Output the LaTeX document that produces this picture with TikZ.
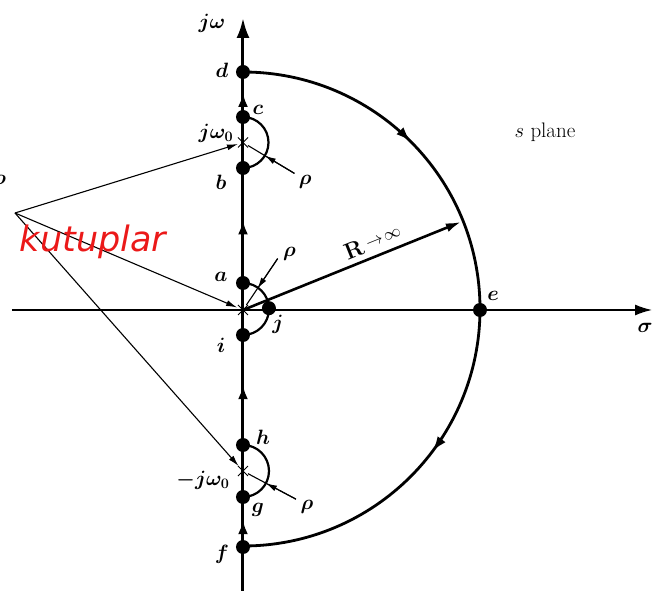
\documentclass[tikz,border=0pt]{standalone}
\usepackage{fontspec}
\usetikzlibrary{positioning, arrows.meta, decorations.markings, shapes.misc}
\definecolor{polered}{RGB}{235, 25, 25}
\newfontfamily\kutupfont{DejaVu Sans}

\tikzset{
    pt/.style={circle, fill, inner sep=0pt, minimum size=14pt},
    pole/.style={cross out, draw, line width=1pt, inner sep=0pt, minimum size=9pt},
    lbl/.style={font=\fontsize{21}{24}\selectfont\boldmath},
    axisline/.style={line width=3pt},
    upmark/.style={postaction={decorate}, decoration={markings,
        mark=at position 0.55 with {\arrow{Latex[length=14pt,width=10pt]}}}},
    rholine/.style={line width=1.1pt},
    polearrow/.style={line width=1.1pt, -{Latex[length=11pt,width=6pt]}},
}

\begin{document}
\begin{tikzpicture}[x=1pt, y=1pt]
        \useasboundingbox (-243,-281) rectangle (421,310);
        \coordinate (O) at (0,0);
        \coordinate (P) at (-228,97);

        % axes
        \draw[line width=1.5pt, -{Latex[length=17pt,width=11pt]}] (-231,0) -- (409,0) coordinate (sx);
        \draw[axisline, -{Latex[length=20pt,width=13pt]}] (0,-281) -- (0,292) coordinate (wy);

        % points on the contour
        \node[pt] (d) at (0,238) {};
        \node[pt] (c) at (0,193) {};
        \node[pole] (pw) at (0,167.5) {};
        \node[pt] (b) at (0,142) {};
        \node[pt] (a) at (0,27) {};
        \node[pole] (po) at (O) {};
        \node[pt] (j) at (4:26) {};
        \node[pt] (i) at (0,-25) {};
        \node[pt] (h) at (0,-135) {};
        \node[pole] (nw) at (0,-161) {};
        \node[pt] (g) at (0,-187) {};
        \node[pt] (f) at (0,-237) {};
        \node[pt] (e) at (237,0) {};

        \draw[axisline, upmark] (c) -- (d);
        \draw[axisline, upmark] (a) -- (b);
        \draw[axisline, upmark] (h) -- (i);
        \draw[axisline, upmark] (f) -- (g);

        \draw[line width=2.2pt] (c.center) arc (90:-90:25.5);
        \draw[line width=2.2pt] (a.center) arc (90:-90:26);
        \draw[line width=2.2pt] (h.center) arc (90:-90:26);

        \draw[line width=2.8pt, postaction={decorate}, decoration={markings,
            mark=at position 0.25 with {\arrow{Latex[length=15pt,width=10pt]}},
            mark=at position 0.705 with {\arrow{Latex[length=15pt,width=10pt]}}}]
            (d.center) arc (90:-90:237);

        \draw[line width=2.6pt, -{Latex[length=15pt,width=9pt]}] (O) -- (22:235)
            node[pos=0.62, sloped, above=2pt, font=\fontsize{23}{26}\selectfont\bfseries] (rlbl)
            {R\,{\fontsize{16}{18}\selectfont\raisebox{3pt}{$\rightarrow\!\infty$}}};

        % radius marks
        \draw[rholine] (pw) -- ++(-31:60) coordinate (r1);
        \draw[polearrow] (r1) -- ([shift={(-31:25.5)}]pw.center);
        \draw[rholine] (po) -- ++(56:62) coordinate (r2);
        \draw[polearrow] (r2) -- ([shift={(56:26)}]O);
        \draw[rholine] (nw) -- ++(-28:60) coordinate (r3);
        \draw[polearrow] (r3) -- ([shift={(-28:26)}]nw.center);
        \node[lbl, below right=-2pt and 1pt of r1] (rho1) {$\rho$};
        \node[lbl, right=2pt of r2, yshift=5pt] (rho2) {$\rho$};
        \node[lbl, below right=-2pt and 1pt of r3] (rho3) {$\rho$};

        % poles
        \draw[polearrow] (P) -- (pw);
        \draw[polearrow, shorten >=1pt] (P) -- (po);
        \draw[polearrow] (P) -- (nw);
        \node[text=polered, font=\kutupfont\itshape\fontsize{35}{40}\selectfont] (kut) at (-150,68) {kutuplar};
        \node[lbl] (frag) at (-243,130) {$o$};

        % labels
        \node[lbl] (wlbl) at (-31,287) {$j\omega$};
        \node[lbl] (dlbl) at (-21,240) {$d$};
        \node[lbl] (clbl) at (15,200) {$c$};
        \node[lbl] (pwlbl) at (-27,177) {$j\omega_0$};
        \node[lbl] (blbl) at (-22,128) {$b$};
        \node[lbl] (albl) at (-22,33) {$a$};
        \node[lbl] (ilbl) at (-22,-35) {$i$};
        \node[lbl] (jlbl) at (35,-14) {$j$};
        \node[lbl] (hlbl) at (20,-127) {$h$};
        \node[lbl] (nwlbl) at (-40,-170) {$-j\omega_0$};
        \node[lbl] (glbl) at (15,-200) {$g$};
        \node[lbl] (flbl) at (-21,-244) {$f$};
        \node[lbl] (elbl) at (250,14) {$e$};
        \node[lbl] (slbl) at (402,-18) {$\sigma$};
        \node[font=\fontsize{21}{24}\selectfont] (plane) at (302,178) {$s$ plane};
    \end{tikzpicture}
\end{document}
